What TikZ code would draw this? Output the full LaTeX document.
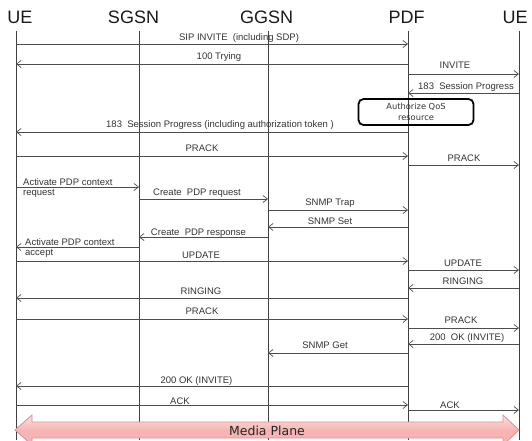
\documentclass[tikz,border=0pt]{standalone}
\usepackage{fontspec}
\setmainfont{Liberation Sans}
\newfontfamily\boxfont{DejaVu Sans}
\usetikzlibrary{arrows.meta}
\definecolor{planefill}{HTML}{F7B4B4}
\definecolor{planetop}{HTML}{FDE2E2}
\definecolor{planeedge}{HTML}{E48B8B}
\begin{document}
\begin{tikzpicture}[x=1pt,y=-1pt,
  lifeline/.style={draw=black!75, line width=0.8pt},
  msg/.style={draw=black!70, line width=0.7pt, -{Straight Barb[length=4.5pt,width=7pt]}},
  lbl/.style={font=\fontsize{9.5}{11}\selectfont, text=black!80, anchor=base, inner sep=0pt},
  lbll/.style={lbl, anchor=base west},
  head/.style={font=\fontsize{18}{20}\selectfont, text=black!90, anchor=base, inner sep=0pt},
]
\useasboundingbox (0,0) rectangle (532,440);
\clip (0,0) rectangle (532,440);

% participants
\node[head] (hUEa)  at (20,23)    {UE};
\node[head] (hSGSN) at (133.5,23) {SGSN};
\node[head] (hGGSN) at (266.5,23) {GGSN};
\node[head] (hPDF)  at (406.5,23) {PDF};
\node[head] (hUEb)  at (515,23)   {UE};

% lifelines
\coordinate (ueA)  at (16,31);
\coordinate (sgsn) at (139,31);
\coordinate (ggsn) at (268,31);
\coordinate (pdf)  at (408,31);
\coordinate (ueB)  at (519,31);
\foreach \p in {ueA,sgsn,ggsn,pdf,ueB}
  \draw[lifeline] (\p) -- (\p |- 0,440);

\newcommand\msgline[3]{\draw[msg] (#1 |- 0,#3) -- (#2 |- 0,#3);}

% SIP signalling
\msgline{ueA}{pdf}{44}
\node[lbl] (m1) at (239,40.5) {SIP INVITE\ \ (including SDP)};
\msgline{pdf}{ueA}{64}
\node[lbl] (m2) at (219,59) {100 Trying};
\msgline{pdf}{ueB}{74}
\node[lbl] (m3) at (455,68.5) {INVITE};
\msgline{ueB}{pdf}{93}
\node[lbl] (m4) at (466,89.5) {183\ \ Session Progress};

\node[draw=black, rounded corners=5pt, line width=1.8pt, minimum width=115pt,
      minimum height=26pt, inner sep=0pt, align=center, text=black!80,
      font=\boxfont\fontsize{8.3}{11}\selectfont] (qos) at (416,112)
      {Authorize QoS\\resource};

\msgline{pdf}{ueA}{132}
\node[lbl] (m5) at (220,127) {183\ \ Session Progress (including authorization token )};
\msgline{ueA}{pdf}{156}
\node[lbl] (m6) at (202,151.5) {PRACK};
\msgline{pdf}{ueB}{165}
\node[lbl] (m7) at (464,161.5) {PRACK};

% PDP context activation
\msgline{ueA}{sgsn}{187}
\node[lbll] (m8a) at (23,185) {Activate PDP context};
\node[lbll] (m8b) at (23,195.5) {request};
\msgline{sgsn}{ggsn}{199}
\node[lbl] (m9) at (197,195.5) {Create\ \ PDP request};
\msgline{ggsn}{pdf}{210}
\node[lbl] (m10) at (330,205.5) {SNMP Trap};
\msgline{pdf}{ggsn}{227}
\node[lbl] (m11) at (330,224) {SNMP Set};
\msgline{ggsn}{sgsn}{237}
\node[lbl] (m12) at (198.5,235.5) {Create\ \ PDP response};
\msgline{sgsn}{ueA}{247}
\node[lbll] (m13a) at (25,245) {Activate PDP context};
\node[lbll] (m13b) at (25,255) {accept};

% update / ringing
\msgline{ueA}{pdf}{261}
\node[lbl] (m14) at (201,258.5) {UPDATE};
\msgline{pdf}{ueB}{270}
\node[lbl] (m15) at (463,266.5) {UPDATE};
\msgline{ueB}{pdf}{288}
\node[lbl] (m16) at (463,284.5) {RINGING};
\msgline{pdf}{ueA}{298}
\node[lbl] (m17) at (201,294.5) {RINGING};
\msgline{ueA}{pdf}{319}
\node[lbl] (m18) at (202,314.5) {PRACK};
\msgline{pdf}{ueB}{328}
\node[lbl] (m19) at (461,323.5) {PRACK};
\msgline{ueB}{pdf}{344}
\node[lbl] (m20) at (467,340.5) {200\ \ OK (INVITE)};
\msgline{pdf}{ggsn}{353}
\node[lbl] (m21) at (325,348.5) {SNMP Get};
\msgline{pdf}{ueA}{386}
\node[lbl] (m22) at (196.5,383.5) {200 OK (INVITE)};
\msgline{ueA}{pdf}{405}
\node[lbl] (m23) at (180,404.5) {ACK};
\msgline{pdf}{ueB}{410}
\node[lbl] (m24) at (450,408.5) {ACK};

% media plane
\path[draw=planeedge, line width=0.8pt, top color=planetop, bottom color=planefill,
      middle color=planefill]
  (15,430) -- (32,415) -- (32,422) -- (503,422) -- (503,415) -- (519,430)
  -- (503,445) -- (503,438) -- (32,438) -- (32,445) -- cycle;
\node[font=\boxfont\fontsize{12.5}{14}\selectfont, text=black!85, inner sep=0pt]
  (media) at (267,431) {Media Plane};
\end{tikzpicture}
\end{document}
